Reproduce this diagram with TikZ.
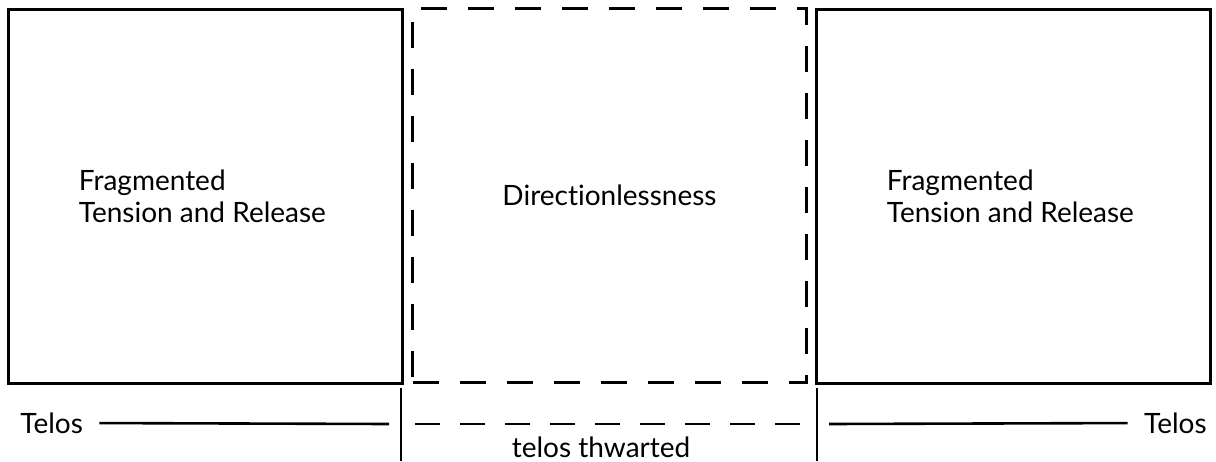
\documentclass[tikz,border=0pt]{standalone}
\usepackage{fontspec}
\setmainfont[Ligatures=NoCommon]{Lato}
\usetikzlibrary{positioning}

\tikzset{
  panel/.style={draw,line width=1.5pt,minimum width=197pt,minimum height=187pt,inner sep=0pt},
  voidpanel/.style={panel,dash pattern=on 13pt off 10.5pt},
  caption/.style={inner sep=0pt,font=\fontsize{14}{16}\selectfont},
  bar/.style={line width=1.3pt},
}

\begin{document}
\begin{tikzpicture}[x=0.5pt,y=-0.5pt]
  \useasboundingbox (0,0) rectangle (1216,461);

  % the three sections
  \node[panel] (left) at (205,196) {};
  \node[voidpanel,caption] (mid) at (609.5,195.5) {Directionlessness};
  \node[panel] (right) at (1013,196) {};
  \node[caption,anchor=west,align=left] (lefttxt) at ([xshift=36pt]left.west) {Fragmented\\Tension and Release};
  \node[caption,anchor=west,align=left] (righttxt) at ([xshift=36pt]right.west) {Fragmented\\Tension and Release};

  % separators under the boxes
  \coordinate (s1top) at (401,388);
  \coordinate (s1bot) at (401,461);
  \coordinate (s2top) at (817,388);
  \coordinate (s2bot) at (817,461);
  \draw[bar] (s1top) -- (s1bot);
  \draw[bar] (s2top) -- (s2bot);

  % telos line
  \node[caption,anchor=west] (telosl) at (20,423) {Telos};
  \node[caption,anchor=east] (telosr) at (1207,423) {Telos};
  \coordinate (lend) at (389,424);
  \coordinate (dstart) at (415,424);
  \coordinate (dend) at (805,424);
  \coordinate (rstart) at (829,424);
  \draw[bar,shorten <=8pt] (telosl.east) -- (lend);
  \draw[bar,dash pattern=on 12.5pt off 10pt] (dstart) -- (dend);
  \draw[bar,shorten >=8pt] (rstart) -- (telosr.west);
  \node[caption] (thwart) at (601,447) {telos thwarted};
\end{tikzpicture}
\end{document}
